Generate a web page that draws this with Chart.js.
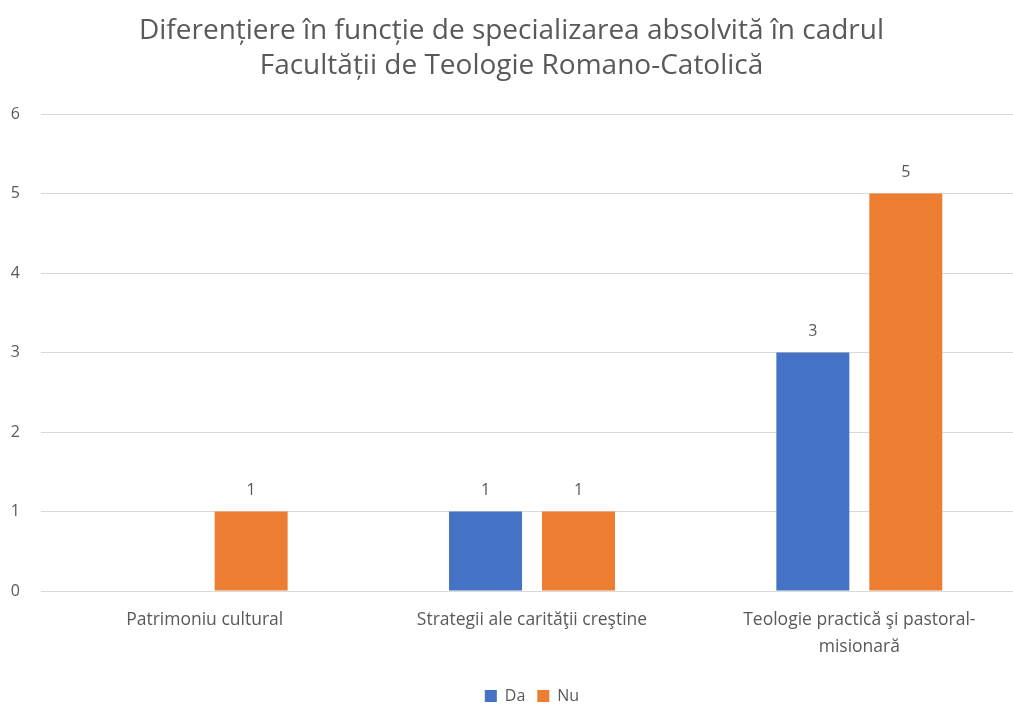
<!DOCTYPE html>
<html>
<head>
<meta charset="utf-8">
<script src="https://cdn.jsdelivr.net/npm/chart.js@4/dist/chart.umd.min.js"></script>
<style>
  html, body { margin: 0; background: #fff; overflow: hidden; }
</style>
</head>
<body>
<canvas id="chart" width="1046" height="707"></canvas>
<script>
const categories = [
    "Patrimoniu cultural",
    "Strategii ale carităţii creştine",
    ["Teologie practică şi pastoral-", "misionară"]
];
const daValues = [null, 1, 3];
const nuValues = [1, 1, 5];
const yTicks = [0, 1, 2, 3, 4, 5, 6];

const textColor = "#595959";
const font = "'Open Sans', sans-serif";

// simple value labels above bars
const barLabels = {
    id: "barLabels",
    afterDatasetsDraw(chart) {
        let ctx = chart.ctx;
        ctx.save();
        ctx.fillStyle = textColor;
        ctx.font = "16px " + font;
        ctx.textAlign = "center";
        ctx.textBaseline = "bottom";
        chart.data.datasets.forEach((ds, i) => {
            let meta = chart.getDatasetMeta(i);
            meta.data.forEach((bar, j) => {
                if (ds.data[j] == null) return;
                ctx.fillText(ds.data[j], bar.x, bar.y - 13);
            });
        });
        ctx.restore();
    }
};

let ctx = document.getElementById("chart").getContext("2d");
let myChart = new Chart(ctx, {
    type: "bar",
    data: {
        labels: categories,
        datasets: [
            { label: "Da", data: daValues, backgroundColor: "#4472C4" },
            { label: "Nu", data: nuValues, backgroundColor: "#ED7D31" }
        ]
    },
    options: {
        responsive: false,
        animation: false,
        categoryPercentage: 0.568,
        barPercentage: 0.785,
        layout: { padding: { left: 0, right: 23, top: 14, bottom: -7 } },
        plugins: {
            title: {
                display: true,
                text: ["Diferențiere în funcție de specializarea absolvită în cadrul", "Facultății de Teologie Romano-Catolică"],
                color: textColor,
                font: { family: font, size: 28, weight: "normal", lineHeight: 1.25 },
                padding: { top: 0, bottom: 30 }
            },
            legend: {
                position: "bottom",
                fullSize: false,
                labels: {
                    color: textColor,
                    font: { family: font, size: 16 },
                    boxWidth: 12,
                    boxHeight: 12,
                    padding: 12
                }
            },
            tooltip: { enabled: false }
        },
        scales: {
            x: {
                grid: { display: false },
                border: { color: "#d9d9d9" },
                afterFit: axis => { axis.height = 85; },
                ticks: { color: textColor, font: { family: font, size: 17.5, lineHeight: 1.55 }, maxRotation: 0, padding: 7 }
            },
            y: {
                min: yTicks[0],
                max: yTicks[yTicks.length - 1],
                afterBuildTicks: axis => { axis.ticks = yTicks.map(v => ({ value: v })); },
                afterFit: axis => { axis.width = 41; },
                grid: { color: "#d9d9d9", drawTicks: false },
                border: { display: false },
                ticks: { color: textColor, font: { family: font, size: 16 }, padding: 21 }
            }
        }
    },
    plugins: [barLabels]
});
</script>
</body>
</html>
